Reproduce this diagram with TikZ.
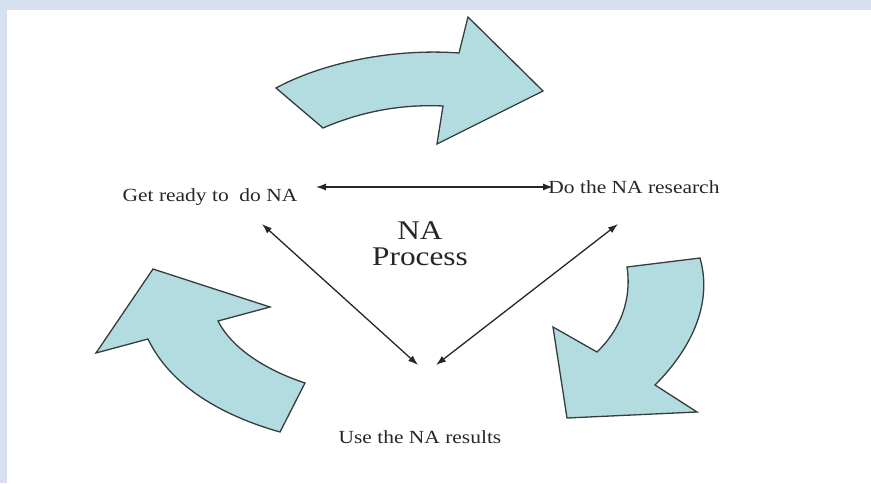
\documentclass[tikz,border=0pt]{standalone}
\usepackage{fontspec}
\setmainfont{Liberation Serif}[FakeStretch=1.16]
\usetikzlibrary{arrows.meta}

\definecolor{framebg}{HTML}{D6E0F1}
\definecolor{cyclefill}{HTML}{B3DCE0}
\definecolor{cycleline}{HTML}{343C3E}

\begin{document}
\begin{tikzpicture}[x=1pt, y=-1pt,
    cyclearrow/.style={fill=cyclefill, draw=cycleline, line width=1.3pt},
    link/.style={draw=black!85, line width=1.3pt,
        {Latex[length=10pt,width=7pt]}-{Latex[length=10pt,width=7pt]}},
    stage/.style={inner sep=0pt, anchor=base, text=black!85,
        font=\fontsize{18.5}{22}\selectfont}]
    \useasboundingbox (0,0) rectangle (871,483);
    % Frame
    \fill[framebg] (0,0) rectangle (871,10);
    \fill[framebg] (0,0) rectangle (7,483);

    % Top cycle arrow
    \draw[cyclearrow] (276,88) -- (323,128)
        .. controls (360,112) and (400,104) .. (443,106)
        -- (437,144) -- (543,91) -- (468,17) -- (459,53)
        .. controls (390,48) and (320,64) .. (276,88) -- cycle;
    % Right cycle arrow
    \draw[cyclearrow] (627,267) -- (700,258)
        .. controls (712,300) and (695,345) .. (655,385)
        -- (697,412) -- (567,418) -- (553,327) -- (597,352)
        .. controls (620,330) and (632,300) .. (627,267) -- cycle;
    % Left cycle arrow
    \draw[cyclearrow] (153,269) -- (270,307) -- (218,321)
        .. controls (230,345) and (260,368) .. (305,383)
        -- (280,432)
        .. controls (220,415) and (170,385) .. (148,339)
        -- (96,353) -- cycle;

    % Stages
    \node[stage] (ready) at (210,201) {Get ready to\ \ do NA};
    \node[stage] (research) at (634,193) {Do the NA research};
    \node[stage] (results) at (420,443) {Use the NA results};
    \node[inner sep=0pt, anchor=north, align=center, text=black!85,
        font=\fontsize{27}{26}\selectfont] (process) at (420,221) {NA\\Process};

    % Ends of the links
    \coordinate (readyTip) at (316,187);
    \coordinate (researchTip) at (553,187);
    \coordinate (readyLow) at (262,224);
    \coordinate (researchLow) at (618,224);
    \coordinate (resultsLeft) at (418,365);
    \coordinate (resultsRight) at (436,365);

    \draw[link] (readyTip) -- (researchTip);
    \draw[link] (readyLow) -- (resultsLeft);
    \draw[link] (researchLow) -- (resultsRight);
\end{tikzpicture}
\end{document}
